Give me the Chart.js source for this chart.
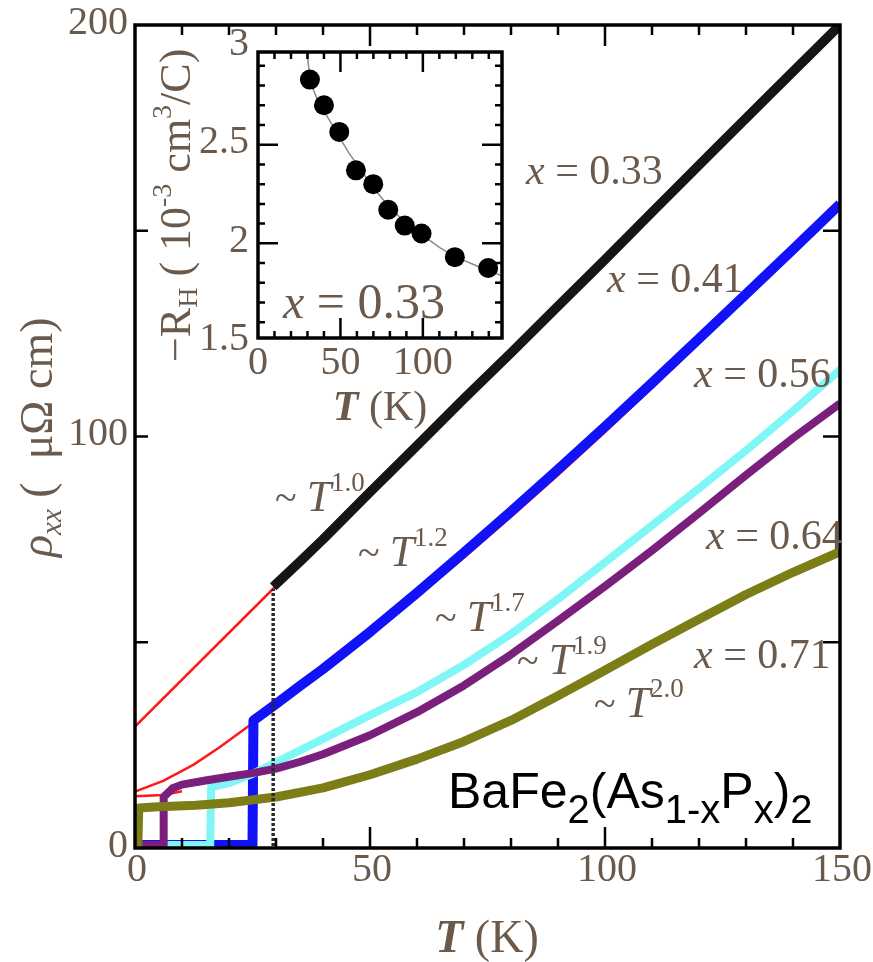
<!DOCTYPE html>
<html>
<head>
<meta charset="utf-8">
<script src="https://cdn.jsdelivr.net/npm/chart.js@4.4.1/dist/chart.umd.min.js"></script>
<style>
  body { margin: 0; background: #fff; }
  #wrap { position: relative; width: 873px; height: 962px; }
  canvas { position: absolute; top: 0; }
</style>
</head>
<body>
<div id="wrap">
  <canvas id="main" width="873" height="962" style="left:0"></canvas>
  <canvas id="inset" width="380" height="440" style="left:140px"></canvas>
</div>
<script>
// rho_xx(T) for BaFe2(As1-xPx)2
const blackT = [29.4, 35, 40, 50, 60, 70, 80, 90, 100, 110, 124, 135, 150];
const blackRho = [63.5, 69.5, 75, 86.5, 97.8, 109.2, 120.3, 131.7, 143, 154.5, 170.5, 183, 200];
const tcBlackT = [29.4, 29.4];
const tcBlackRho = [0.5, 63];

const blueT = [0, 25, 25.2, 30, 35, 40, 50, 60, 70, 80, 90, 100, 110, 120, 130, 140, 150];
const blueRho = [0.7, 0.7, 31, 35, 39.3, 43.5, 52.5, 62, 71.8, 81.8, 92, 102.4, 113, 123.8, 134.6, 145.5, 156.5];

const cyanT = [0, 16, 16.2, 20, 25, 30, 40, 50, 60, 70, 80, 90, 100, 110, 120, 130, 140, 150];
const cyanRho = [0.7, 0.7, 14.8, 15.8, 18, 20.8, 26.5, 32.3, 37.9, 44.5, 52, 60.5, 69.4, 78.4, 87.4, 96.6, 106.2, 116.2];

const purpleT = [0, 6, 6.1, 8, 10, 15, 20, 25, 30, 35, 40, 50, 60, 70, 80, 90, 100, 110, 120, 130, 140, 150];
const purpleRho = [0.7, 0.7, 12.4, 14.5, 15.4, 16.4, 17.3, 18.2, 19.3, 20.9, 22.8, 27.4, 33, 39.5, 47, 55.2, 63.6, 72.3, 81.4, 90.6, 99.6, 108];

const oliveT = [0, 0.6, 0.8, 5, 13, 20, 30, 40, 50, 60, 70, 80, 90, 100, 110, 120, 130, 140, 150];
const oliveRho = [0.3, 0.3, 9.7, 10, 10.4, 11, 12.4, 14.6, 17.8, 21.6, 25.9, 31, 37, 43.2, 49.5, 55.6, 61.6, 67, 72];

// red fit lines
const fitBlackT = [0, 29.4, 150];
const fitBlackRho = [29.5, 63, 200];
const fitBlueT = [0, 6, 12.4, 18, 24.5, 30, 40, 50, 60, 70, 80, 90, 100, 110, 120, 130, 140, 150];
const fitBlueRho = [13.7, 16.3, 20.2, 24.5, 29.9, 34.3, 42.8, 51.7, 61, 70.6, 80.5, 90.6, 101.1, 111.8, 122.8, 134, 145.1, 156.5];
const fitPurpleT = [0, 6, 10];
const fitPurpleRho = [12.6, 12.9, 13.8];
const fitOliveT = [0, 3];
const fitOliveRho = [9.3, 9.4];

const xTickLabels = [0, 50, 100, 150];
const yTickLabels = [0, 100, 200];
const yTickMarks = [50, 100, 150];

// inset: -R_H(T) for x = 0.33
const insetT = [31.5, 40, 49.3, 59.4, 69.9, 79, 89, 99.2, 119.4, 139.6];
const insetRH = [2.83, 2.70, 2.565, 2.37, 2.30, 2.17, 2.09, 2.05, 1.93, 1.875];
const insetFitT = [30, 30.5, 31.5, 33, 36, 40, 45, 50, 55, 60, 70, 80, 90, 100, 110, 120, 130, 140, 148];
const insetFitRH = [2.97, 2.91, 2.84, 2.79, 2.73, 2.67, 2.6, 2.53, 2.46, 2.4, 2.28, 2.18, 2.1, 2.04, 1.98, 1.93, 1.895, 1.86, 1.835];
const insetXLabels = [0, 50, 100];
const insetYLabels = [3, 2.5, 2, 1.5];

const SERIF = '"Liberation Serif", "DejaVu Serif", serif';
const SANS = '"Liberation Sans", Arial, sans-serif';
const LABEL = '#6b5a4b';

function pts(T, R) { return T.map((t, i) => ({ x: t, y: R[i] })); }

function line(T, R, color, width, order, extra) {
  return Object.assign({
    data: pts(T, R), borderColor: color, borderWidth: width, pointRadius: 0,
    tension: 0, fill: false, order: order, borderJoinStyle: 'round'
  }, extra || {});
}

// draws a run of text pieces left to right, returns width
function drawParts(ctx, parts, x, y, measureOnly) {
  let cx = x;
  parts.forEach(p => {
    ctx.font = p.font;
    if (!measureOnly) ctx.fillText(p.text, cx, y + (p.dy || 0));
    cx += ctx.measureText(p.text).width;
  });
  return cx - x;
}

function serif(size, italic) { return (italic ? 'italic ' : '') + size + 'px ' + SERIF; }

function xLabel(val) {
  return [{ text: 'x', font: serif(42, true) }, { text: ' = ' + val, font: serif(42) }];
}
function powLabel(p) {
  return [{ text: '~ ', font: serif(40) }, { text: 'T', font: serif(44, true) },
          { text: p, font: serif(27), dy: -20 }];
}

const mainDecor = {
  id: 'mainDecor',
  afterDatasetsDraw(chart) {
    const { ctx, chartArea: a, scales: { x, y } } = chart;
    ctx.save();
    ctx.strokeStyle = '#000';
    ctx.lineWidth = 2.5;
    ctx.beginPath();
    for (let v = 10; v < 150; v += 10) {
      const px = x.getPixelForValue(v);
      const len = v % 50 === 0 ? 21 : 10;
      ctx.moveTo(px, a.bottom); ctx.lineTo(px, a.bottom - len);
      ctx.moveTo(px, a.top); ctx.lineTo(px, a.top + len);
    }
    yTickMarks.forEach(v => {
      const py = y.getPixelForValue(v);
      ctx.moveTo(a.left, py); ctx.lineTo(a.left + 13, py);
      ctx.moveTo(a.right, py); ctx.lineTo(a.right - 17, py);
    });
    ctx.stroke();
    ctx.lineWidth = 3.5;
    ctx.strokeRect(a.left, a.top, a.right - a.left, a.bottom - a.top);

    ctx.fillStyle = LABEL;
    ctx.font = serif(40);
    ctx.textBaseline = 'middle';
    ctx.textAlign = 'right';
    yTickLabels.forEach(v => ctx.fillText(String(v), a.left - 7, y.getPixelForValue(v) - 2));
    ctx.textAlign = 'center';
    xTickLabels.forEach(v => ctx.fillText(String(v), x.getPixelForValue(v) + 2, a.bottom + 22));
    ctx.restore();
  },
  afterDraw(chart) {
    const { ctx } = chart;
    ctx.save();
    ctx.fillStyle = LABEL;
    ctx.textAlign = 'left';
    ctx.textBaseline = 'alphabetic';

    // axis titles
    const tk = [{ text: 'T', font: 'bold ' + serif(46, true) }, { text: ' (K)', font: serif(46) }];
    const w = drawParts(ctx, tk, 0, 0, true);
    drawParts(ctx, tk, 487 - w / 2, 952);

    ctx.save();
    ctx.translate(52, 557);
    ctx.rotate(-Math.PI / 2);
    drawParts(ctx, [
      { text: 'ρ', font: serif(46, true) },
      { text: 'xx', font: serif(29, true), dy: 9 },
      { text: ' (  μΩ cm)', font: serif(46) }
    ], 0, 0);
    ctx.restore();

    // composition labels
    drawParts(ctx, xLabel('0.33'), 526, 184);
    drawParts(ctx, xLabel('0.41'), 607, 292);
    drawParts(ctx, xLabel('0.56'), 694, 387);
    drawParts(ctx, xLabel('0.64'), 706, 549);
    drawParts(ctx, xLabel('0.71'), 694, 668);

    // power law labels
    drawParts(ctx, powLabel('1.0'), 275, 511);
    drawParts(ctx, powLabel('1.2'), 358, 566);
    drawParts(ctx, powLabel('1.7'), 435, 631);
    drawParts(ctx, powLabel('1.9'), 517, 674);
    drawParts(ctx, powLabel('2.0'), 594, 717);

    // compound name
    ctx.fillStyle = '#000';
    const big = '50px ' + SANS, sub = '40px ' + SANS;
    drawParts(ctx, [
      { text: 'BaFe', font: big }, { text: '2', font: sub, dy: 15 },
      { text: '(As', font: big }, { text: '1-x', font: sub, dy: 15 },
      { text: 'P', font: big }, { text: 'x', font: sub, dy: 15 },
      { text: ')', font: big }, { text: '2', font: sub, dy: 15 }
    ], 448, 808);
    ctx.restore();
  }
};

new Chart(document.getElementById('main'), {
  type: 'line',
  data: {
    datasets: [
      line(tcBlackT, tcBlackRho, '#2a2a2a', 3.5, 1, { borderDash: [3, 2] }),
      line(blackT, blackRho, '#151515', 9.5, 2),
      line(oliveT, oliveRho, '#7d7d18', 9, 3),
      line(purpleT, purpleRho, '#7b1f7d', 8, 4),
      line(cyanT, cyanRho, '#80f6f6', 8, 5),
      line(blueT, blueRho, '#1212f8', 10, 6),
      line(fitBlackT, fitBlackRho, '#ff1a1a', 2.5, 7),
      line(fitBlueT, fitBlueRho, '#ff1a1a', 2.5, 8),
      line(fitPurpleT, fitPurpleRho, '#ff1a1a', 2.5, 9),
      line(fitOliveT, fitOliveRho, '#ff1a1a', 2.5, 10)
    ]
  },
  options: {
    responsive: false,
    devicePixelRatio: 1,
    animation: false,
    layout: { padding: { left: 135, top: 25, right: 33, bottom: 114 } },
    scales: {
      x: { type: 'linear', min: 0, max: 150, display: false },
      y: { type: 'linear', min: 0, max: 200, display: false }
    },
    plugins: { legend: { display: false }, tooltip: { enabled: false } }
  },
  plugins: [mainDecor]
});

const insetDecor = {
  id: 'insetDecor',
  beforeDatasetsDraw(chart) {
    const { ctx, chartArea: a } = chart;
    ctx.save();
    ctx.fillStyle = '#fff';
    ctx.fillRect(a.left, a.top, a.right - a.left, a.bottom - a.top);
    ctx.restore();
  },
  afterDatasetsDraw(chart) {
    const { ctx, chartArea: a, scales: { x, y } } = chart;
    ctx.save();
    ctx.strokeStyle = '#000';
    ctx.lineWidth = 2.5;
    ctx.beginPath();
    for (let v = 10; v < 148; v += 10) {
      const px = x.getPixelForValue(v);
      const len = v % 50 === 0 ? 20 : 7;
      ctx.moveTo(px, a.bottom); ctx.lineTo(px, a.bottom - len);
      ctx.moveTo(px, a.top); ctx.lineTo(px, a.top + len);
    }
    for (let k = 16; k <= 29; k++) {
      const py = y.getPixelForValue(k / 10);
      const len = k % 5 === 0 ? 20 : 7;
      ctx.moveTo(a.left, py); ctx.lineTo(a.left + len, py);
      ctx.moveTo(a.right, py); ctx.lineTo(a.right - len, py);
    }
    ctx.stroke();
    ctx.lineWidth = 3.5;
    ctx.strokeRect(a.left, a.top, a.right - a.left, a.bottom - a.top);

    ctx.fillStyle = LABEL;
    ctx.font = serif(40);
    ctx.textBaseline = 'middle';
    ctx.textAlign = 'right';
    insetYLabels.forEach(v => ctx.fillText(String(v), a.left - 9, y.getPixelForValue(v) - 2));
    ctx.textAlign = 'center';
    insetXLabels.forEach(v => ctx.fillText(String(v), x.getPixelForValue(v), a.bottom + 25));

    ctx.textAlign = 'left';
    ctx.textBaseline = 'alphabetic';
    drawParts(ctx, [{ text: 'x', font: serif(48, true) }, { text: ' = 0.33', font: serif(50) }], 143, 318);

    const tk = [{ text: 'T', font: 'bold ' + serif(42, true) }, { text: ' (K)', font: serif(42) }];
    const w = drawParts(ctx, tk, 0, 0, true);
    drawParts(ctx, tk, 240 - w / 2, 420);

    ctx.translate(50, 362);
    ctx.rotate(-Math.PI / 2);
    drawParts(ctx, [
      { text: '−R', font: serif(44) },
      { text: 'H', font: serif(28), dy: 7 },
      { text: ' ( 10', font: serif(44) },
      { text: '-3', font: serif(28), dy: -19 },
      { text: ' cm', font: serif(44) },
      { text: '3', font: serif(28), dy: -19 },
      { text: '/C)', font: serif(44) }
    ], 0, 0);
    ctx.restore();
  }
};

new Chart(document.getElementById('inset'), {
  type: 'line',
  data: {
    datasets: [
      line(insetT, insetRH, '#000', 0, 1, { showLine: false, pointRadius: 10, pointBackgroundColor: '#000', pointBorderWidth: 0 }),
      line(insetFitT, insetFitRH, '#8a8a8a', 1.5, 2)
    ]
  },
  options: {
    responsive: false,
    devicePixelRatio: 1,
    animation: false,
    layout: { padding: { left: 118, top: 52, right: 18, bottom: 102 } },
    scales: {
      x: { type: 'linear', min: 0, max: 148, display: false },
      y: { type: 'linear', min: 1.52, max: 2.97, display: false }
    },
    plugins: { legend: { display: false }, tooltip: { enabled: false } }
  },
  plugins: [insetDecor]
});
</script>
</body>
</html>
